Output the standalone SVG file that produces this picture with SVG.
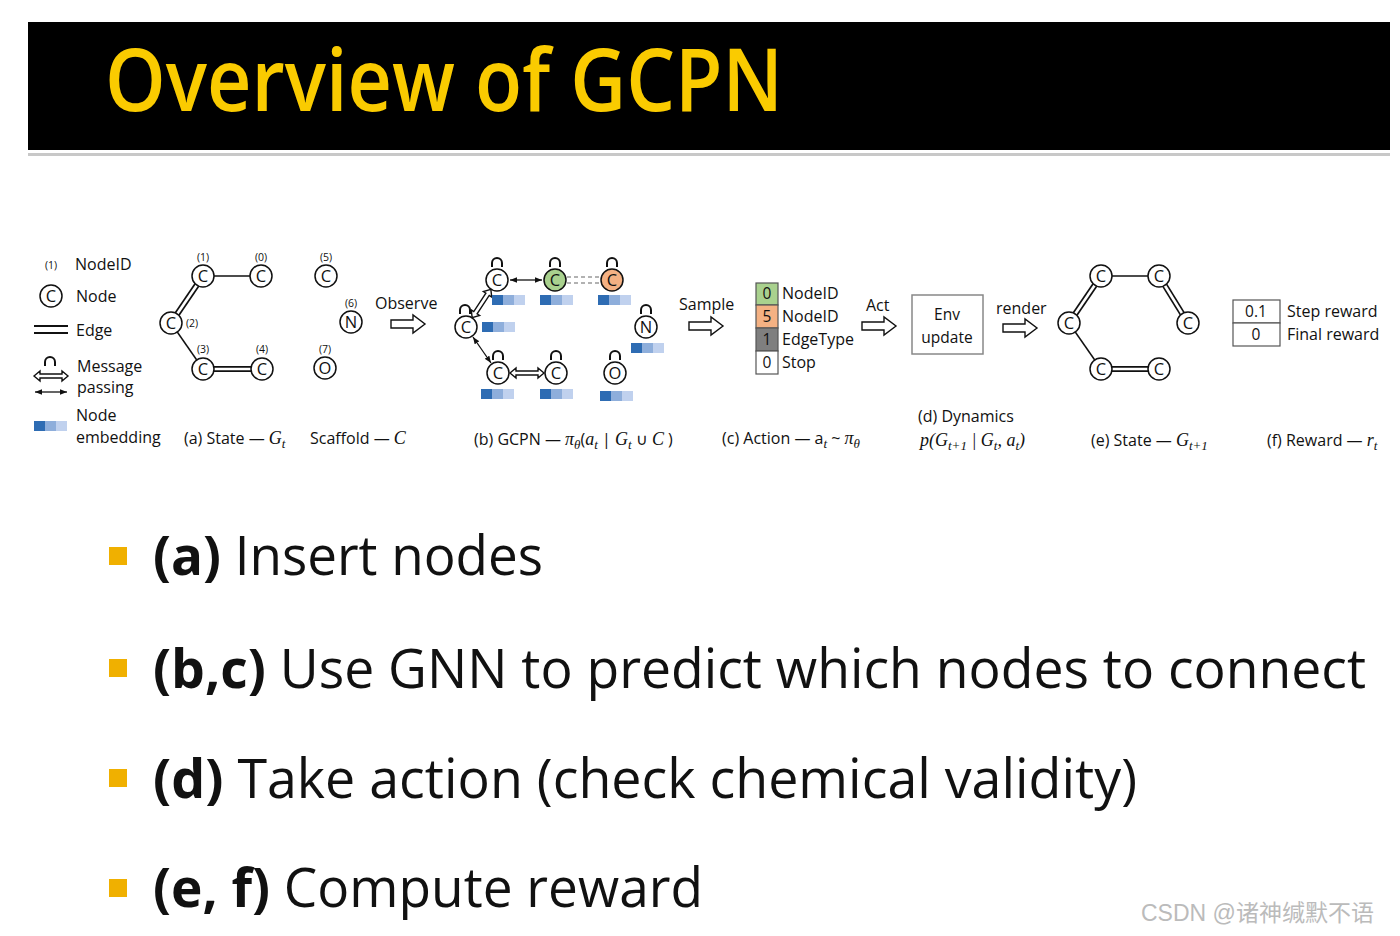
<svg xmlns="http://www.w3.org/2000/svg" xmlns:xlink="http://www.w3.org/1999/xlink" width="1400" height="936" viewBox="0 0 1400 936">
<style>
.t{font-family:"Open Sans","Liberation Sans",sans-serif;font-size:16px;fill:#111}
.s{font-family:"Open Sans","Liberation Sans",sans-serif;font-size:10.5px;fill:#111;text-anchor:middle}
.cap{font-family:"Open Sans","Liberation Sans",sans-serif;font-size:16px;fill:#111}
.m{font-family:"Liberation Serif",serif;font-style:italic;font-size:18px}
.sub{font-family:"Liberation Serif",serif;font-style:italic;font-size:13px}
.nd{fill:#fff;stroke:#111;stroke-width:1.5}
.nl{font-family:"Open Sans","Liberation Sans",sans-serif;font-size:16.5px;fill:#111;text-anchor:middle}
.vl{font-family:"Open Sans","Liberation Sans",sans-serif;font-size:15.5px;fill:#111;text-anchor:middle}
.e1{stroke:#111;stroke-width:1.5}
.e2o{stroke:#111;stroke-width:6}
.e2i{stroke:#fff;stroke-width:2.6}
.bar{fill:#fff;stroke:#111;stroke-width:1.4}
.thin{stroke:#111;stroke-width:1.3;marker-start:url(#ah);marker-end:url(#ah)}
.cell{stroke:#555;stroke-width:1.2}
.bt{font-family:"Open Sans","Liberation Sans",sans-serif;font-size:54px;fill:#111}
.bb{font-weight:bold}
.bul{fill:#F0B000}
</style>
<defs>
<marker id="ah" viewBox="0 0 10 10" refX="10" refY="5" markerWidth="7" markerHeight="7" markerUnits="userSpaceOnUse" orient="auto-start-reverse"><path d="M0,1 L10,5 L0,9 z" fill="#111"/></marker>
<path id="loop" d="M-5 0 V-4 A5 5 0 0 1 5 -4 V0" fill="none" stroke="#111" stroke-width="2"/>
<path id="blk" d="M0,-4 H22 V-9 L34,0 L22,9 V4 H0 Z" class="bar"/>
<path id="hd" d="M-17,0 L-11,-5 L-11,-2 L11,-2 L11,-5 L17,0 L11,5 L11,2 L-11,2 L-11,5 Z" class="bar"/>
<g id="emb"><rect x="0" y="0" width="11" height="10" fill="#2E6CB3"/><rect x="11" y="0" width="11" height="10" fill="#8EAEDB"/><rect x="22" y="0" width="11" height="10" fill="#C0D1EE"/></g>
</defs>
<rect width="1400" height="936" fill="#fff"/>
<g id="banner">
<rect x="28" y="22" width="1362" height="128" fill="#000"/>
<rect x="28" y="153" width="1362" height="3" fill="#C8C8C8"/>
<text x="105" y="111" font-family="Open Sans, Liberation Sans, sans-serif" font-size="86" font-weight="600" fill="#FACB00" textLength="678" lengthAdjust="spacingAndGlyphs">Overview of GCPN</text>
</g>
<g id="legend">
<text class="s" x="51" y="269">(1)</text>
<text class="t" x="75" y="270">NodeID</text>
<circle class="nd" cx="51" cy="296" r="11"/><text class="nl" x="51" y="302">C</text>
<text class="t" x="76" y="302">Node</text>
<line x1="34" y1="326" x2="68" y2="326" stroke="#111" stroke-width="2"/>
<line x1="34" y1="333" x2="68" y2="333" stroke="#111" stroke-width="2"/>
<text class="t" x="76" y="336">Edge</text>
<use xlink:href="#loop" x="50" y="366"/>
<use xlink:href="#hd" transform="translate(51,376)"/>
<line class="thin" x1="35" y1="392" x2="67" y2="392"/>
<text class="t" x="77" y="372">Message</text>
<text class="t" x="77" y="393">passing</text>
<use xlink:href="#emb" x="34" y="421"/>
<text class="t" x="76" y="421">Node</text>
<text class="t" x="76" y="443">embedding</text>
</g>
<g id="connectors">
<line class="e1" x1="203" y1="276" x2="261" y2="276"/>
<line class="e2o" x1="203" y1="276" x2="171" y2="323"/><line class="e2i" x1="203" y1="276" x2="171" y2="323"/>
<line class="e1" x1="171" y1="323" x2="203" y2="369"/>
<line class="e2o" x1="203" y1="369" x2="262" y2="369"/><line class="e2i" x1="203" y1="369" x2="262" y2="369"/>
<use xlink:href="#blk" x="391" y="324"/>
<line class="thin" x1="510" y1="280" x2="542" y2="280"/>
<line x1="567" y1="277" x2="600" y2="277" stroke="#999" stroke-width="1.5" stroke-dasharray="4 3"/>
<line x1="567" y1="283" x2="600" y2="283" stroke="#999" stroke-width="1.5" stroke-dasharray="4 3"/>
<use xlink:href="#hd" transform="translate(481.5,303.5) rotate(-56.6)"/>
<line class="thin" x1="473" y1="337" x2="491" y2="363"/>
<use xlink:href="#hd" transform="translate(527,373)"/>
<use xlink:href="#blk" x="689" y="326"/>
<use xlink:href="#blk" x="862" y="326"/>
<use xlink:href="#blk" x="1003" y="328"/>
<line class="e1" x1="1101" y1="276" x2="1159" y2="276"/>
<line class="e2o" x1="1101" y1="276" x2="1069" y2="323"/><line class="e2i" x1="1101" y1="276" x2="1069" y2="323"/>
<line class="e2o" x1="1159" y1="276" x2="1188" y2="323"/><line class="e2i" x1="1159" y1="276" x2="1188" y2="323"/>
<line class="e1" x1="1069" y1="323" x2="1101" y2="369"/>
<line class="e2o" x1="1101" y1="369" x2="1159" y2="369"/><line class="e2i" x1="1101" y1="369" x2="1159" y2="369"/>
</g>
<g id="state-a">
<circle class="nd" cx="203" cy="276" r="11"/><text class="nl" x="203" y="282">C</text><text class="s" x="203" y="261">(1)</text>
<circle class="nd" cx="261" cy="276" r="11"/><text class="nl" x="261" y="282">C</text><text class="s" x="261" y="261">(0)</text>
<circle class="nd" cx="171" cy="323" r="11"/><text class="nl" x="171" y="329">C</text><text class="s" x="192" y="327">(2)</text>
<circle class="nd" cx="203" cy="369" r="11"/><text class="nl" x="203" y="375">C</text><text class="s" x="203" y="353">(3)</text>
<circle class="nd" cx="262" cy="369" r="11"/><text class="nl" x="262" y="375">C</text><text class="s" x="262" y="353">(4)</text>
<text class="cap" x="184" y="444">(a) State — <tspan class="m">G</tspan><tspan class="sub" dy="4">t</tspan></text>
</g>
<g id="scaffold">
<circle class="nd" cx="326" cy="276" r="11"/><text class="nl" x="326" y="282">C</text><text class="s" x="326" y="261">(5)</text>
<circle class="nd" cx="351" cy="322" r="11"/><text class="nl" x="351" y="328">N</text><text class="s" x="351" y="307">(6)</text>
<circle class="nd" cx="325" cy="368" r="11"/><text class="nl" x="325" y="374">O</text><text class="s" x="325" y="353">(7)</text>
<text class="cap" x="310" y="444">Scaffold — <tspan class="m">C</tspan></text>
<text class="t" x="375" y="309">Observe</text>
</g>
<g id="gcpn">
<circle class="nd" cx="497" cy="280" r="11"/><text class="nl" x="497" y="286">C</text><use xlink:href="#loop" x="497" y="267"/><use xlink:href="#emb" x="492" y="295"/>
<circle class="nd" cx="555" cy="280" r="11" style="fill:#A9D18E"/><text class="nl" x="555" y="286">C</text><use xlink:href="#loop" x="555" y="267"/><use xlink:href="#emb" x="540" y="295"/>
<circle class="nd" cx="612" cy="280" r="11" style="fill:#F4B183"/><text class="nl" x="612" y="286">C</text><use xlink:href="#loop" x="612" y="267"/><use xlink:href="#emb" x="598" y="295"/>
<circle class="nd" cx="466" cy="327" r="11"/><text class="nl" x="466" y="333">C</text><use xlink:href="#loop" x="465" y="314"/><use xlink:href="#emb" x="482" y="322"/>
<circle class="nd" cx="646" cy="327" r="11"/><text class="nl" x="646" y="333">N</text><use xlink:href="#loop" x="646" y="314"/><use xlink:href="#emb" x="631" y="343"/>
<circle class="nd" cx="498" cy="373" r="11"/><text class="nl" x="498" y="379">C</text><use xlink:href="#loop" x="498" y="360"/><use xlink:href="#emb" x="481" y="389"/>
<circle class="nd" cx="556" cy="373" r="11"/><text class="nl" x="556" y="379">C</text><use xlink:href="#loop" x="556" y="360"/><use xlink:href="#emb" x="540" y="389"/>
<circle class="nd" cx="615" cy="373" r="11"/><text class="nl" x="615" y="379">O</text><use xlink:href="#loop" x="615" y="360"/><use xlink:href="#emb" x="600" y="391"/>
<text class="cap" x="474" y="445">(b) GCPN — <tspan class="m">π</tspan><tspan class="sub" dy="4">θ</tspan><tspan dy="-4">(</tspan><tspan class="m">a</tspan><tspan class="sub" dy="4">t</tspan><tspan dy="-4"> | </tspan><tspan class="m">G</tspan><tspan class="sub" dy="4">t</tspan><tspan dy="-4"> ∪ </tspan><tspan class="m">C</tspan><tspan> )</tspan></text>
<text class="t" x="679" y="310">Sample</text>
</g>
<g id="action">
<rect class="cell" x="756" y="283" width="22" height="22" fill="#A9D18E"/>
<rect class="cell" x="756" y="305" width="22" height="23" fill="#F4B183"/>
<rect class="cell" x="756" y="328" width="22" height="23" fill="#7F7F7F"/>
<rect class="cell" x="756" y="351" width="22" height="23" fill="#fff"/>
<text class="vl" x="767" y="299">0</text><text class="vl" x="767" y="322">5</text><text class="vl" x="767" y="345">1</text><text class="vl" x="767" y="368">0</text>
<text class="t" x="782" y="299">NodeID</text><text class="t" x="782" y="322">NodeID</text><text class="t" x="782" y="345">EdgeType</text><text class="t" x="782" y="368">Stop</text>
<text class="cap" x="722" y="444">(c) Action — a<tspan class="sub" dy="4">t</tspan><tspan dy="-4"> ~ </tspan><tspan class="m">π</tspan><tspan class="sub" dy="4">θ</tspan></text>
<text class="t" x="866" y="311">Act</text>
</g>
<g id="env">
<rect x="912" y="295" width="71" height="59" fill="#fff" stroke="#888" stroke-width="1.5"/>
<text class="vl" x="947" y="320">Env</text>
<text class="vl" x="947" y="343">update</text>
<text class="cap" x="918" y="422">(d) Dynamics</text>
<text class="cap" x="920" y="446"><tspan class="m">p</tspan><tspan class="m">(</tspan><tspan class="m">G</tspan><tspan class="sub" dy="4">t+1</tspan><tspan class="m" dy="-4"> | </tspan><tspan class="m">G</tspan><tspan class="sub" dy="4">t</tspan><tspan class="m" dy="-4">, </tspan><tspan class="m">a</tspan><tspan class="sub" dy="4">t</tspan><tspan class="m" dy="-4">)</tspan></text>
<text class="t" x="996" y="314">render</text>
</g>
<g id="state-e">
<circle class="nd" cx="1101" cy="276" r="11"/><text class="nl" x="1101" y="282">C</text>
<circle class="nd" cx="1159" cy="276" r="11"/><text class="nl" x="1159" y="282">C</text>
<circle class="nd" cx="1069" cy="323" r="11"/><text class="nl" x="1069" y="329">C</text>
<circle class="nd" cx="1188" cy="323" r="11"/><text class="nl" x="1188" y="329">C</text>
<circle class="nd" cx="1101" cy="369" r="11"/><text class="nl" x="1101" y="375">C</text>
<circle class="nd" cx="1159" cy="369" r="11"/><text class="nl" x="1159" y="375">C</text>
<text class="cap" x="1091" y="446">(e) State — <tspan class="m">G</tspan><tspan class="sub" dy="4">t+1</tspan></text>
</g>
<g id="reward">
<rect class="cell" x="1233" y="300" width="47" height="23" fill="#fff"/>
<rect class="cell" x="1233" y="323" width="47" height="23" fill="#fff"/>
<text class="vl" x="1256" y="317">0.1</text><text class="vl" x="1256" y="340">0</text>
<text class="t" x="1287" y="317">Step reward</text><text class="t" x="1287" y="340">Final reward</text>
<text class="cap" x="1267" y="446">(f) Reward — <tspan class="m">r</tspan><tspan class="sub" dy="4">t</tspan></text>
</g>
<g id="bullets">
<rect class="bul" x="109" y="547" width="18" height="18"/>
<text class="bt" x="153" y="575" textLength="390" lengthAdjust="spacingAndGlyphs"><tspan class="bb">(a)</tspan> Insert nodes</text>
<rect class="bul" x="109" y="659" width="18" height="18"/>
<text class="bt" x="153" y="688" textLength="1213" lengthAdjust="spacingAndGlyphs"><tspan class="bb">(b,c)</tspan> Use GNN to predict which nodes to connect</text>
<rect class="bul" x="109" y="769" width="18" height="18"/>
<text class="bt" x="153" y="798" textLength="984" lengthAdjust="spacingAndGlyphs"><tspan class="bb">(d)</tspan> Take action (check chemical validity)</text>
<rect class="bul" x="109" y="879" width="18" height="18"/>
<text class="bt" x="153" y="907" textLength="550" lengthAdjust="spacingAndGlyphs"><tspan class="bb">(e, f)</tspan> Compute reward</text>
</g>
<text x="1141" y="921" font-family="Liberation Sans, Noto Sans CJK SC, sans-serif" font-size="23" fill="#BBBBBB">CSDN @诸神缄默不语</text>
</svg>
